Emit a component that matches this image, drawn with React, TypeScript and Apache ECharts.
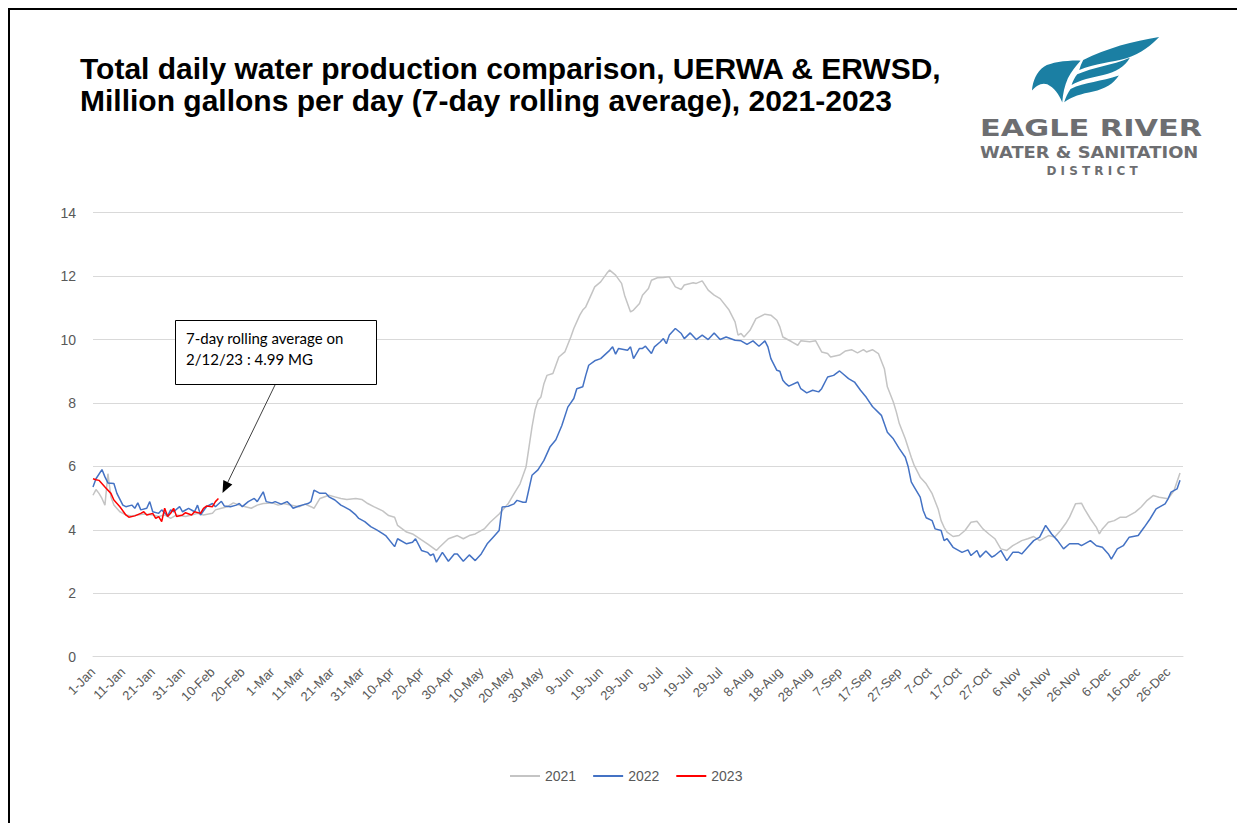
import React, { useEffect, useRef } from "react";
import * as echarts from "echarts";

// ---- Axis categories (leap-year day labels, as on the original axis) ----
const MONTHS = ["Jan", "Feb", "Mar", "Apr", "May", "Jun", "Jul", "Aug", "Sep", "Oct", "Nov", "Dec"];
const MONTH_DAYS = [31, 29, 31, 30, 31, 30, 31, 31, 30, 31, 30, 31];
const categories: string[] = [];
MONTHS.forEach((m, k) => {
  for (let d = 1; d <= MONTH_DAYS[k]; d++) categories.push(`${d}-${m}`);
});

const Y_MIN = 0;
const Y_MAX = 14;
const Y_STEP = 2;

const SERIES_NAMES = ["2021", "2022", "2023"];

// ---- Series values: [day index, million gallons per day] ----
const data2021: [number, number][] = [
  [0, 5.09], [1, 5.27], [2, 5.15], [3, 4.99], [4, 4.78], [5, 5.77], [6, 5.04], [7, 4.78], [9, 4.57], [11, 4.47],
  [13, 4.44], [15, 4.47], [17, 4.5], [20, 4.47], [22, 4.42], [24, 4.47], [26, 4.36], [28, 4.47], [31, 4.42], [33, 4.47],
  [35, 4.52], [37, 4.47], [40, 4.52], [41, 4.63], [43, 4.68], [45, 4.73], [47, 4.85], [49, 4.78], [51, 4.73], [53, 4.68],
  [55, 4.78], [57, 4.83], [60, 4.85], [62, 4.78], [64, 4.83], [66, 4.78], [69, 4.73], [71, 4.81], [73, 4.73], [74, 4.68],
  [76, 4.99], [79, 5.09], [81, 5.04], [83, 4.99], [85, 4.96], [88, 4.99], [90, 4.96], [92, 4.83], [94, 4.73], [97, 4.6],
  [99, 4.45], [101, 4.4], [102, 4.14], [105, 3.93], [107, 3.87], [110, 3.68], [112, 3.56], [115, 3.35], [116, 3.45], [119, 3.72],
  [122, 3.82], [124, 3.72], [126, 3.82], [128, 3.87], [131, 4.03], [133, 4.24], [136, 4.5], [139, 4.82], [141, 5.14], [143, 5.45],
  [145, 5.98], [146, 6.61], [147, 7.24], [148, 7.77], [149, 8.08], [150, 8.19], [151, 8.61], [152, 8.87], [154, 8.93], [155, 9.19],
  [156, 9.45], [158, 9.61], [160, 10.08], [161, 10.35], [163, 10.77], [164, 10.93], [165, 11.03], [167, 11.45], [168, 11.66], [170, 11.82],
  [172, 12.08], [173, 12.19], [175, 12.03], [177, 11.77], [178, 11.4], [180, 10.87], [181, 10.93], [183, 11.14], [184, 11.4], [186, 11.61],
  [187, 11.87], [189, 11.95], [191, 11.96], [193, 11.98], [195, 11.66], [197, 11.58], [198, 11.72], [201, 11.79], [202, 11.77], [204, 11.85],
  [206, 11.56], [208, 11.4], [210, 11.29], [213, 10.93], [215, 10.56], [216, 10.14], [217, 10.19], [218, 10.08], [220, 10.29], [222, 10.66],
  [225, 10.8], [227, 10.77], [229, 10.61], [230, 10.4], [231, 10.08], [234, 9.93], [236, 9.82], [237, 9.96], [240, 9.93], [242, 9.96],
  [244, 9.61], [246, 9.56], [247, 9.45], [250, 9.51], [252, 9.64], [254, 9.68], [256, 9.58], [258, 9.68], [259, 9.61], [261, 9.68],
  [263, 9.56], [265, 9.08], [266, 8.51], [268, 8.03], [269, 7.72], [270, 7.35], [272, 6.87], [274, 6.29], [275, 6.03], [277, 5.66],
  [279, 5.45], [281, 5.14], [283, 4.66], [284, 4.29], [285, 4.08], [286, 3.93], [288, 3.79], [290, 3.82], [292, 3.98], [294, 4.24],
  [296, 4.27], [298, 4.03], [300, 3.87], [302, 3.72], [304, 3.4], [306, 3.35], [308, 3.5], [311, 3.66], [313, 3.72], [315, 3.79],
  [317, 3.66], [320, 3.82], [322, 3.77], [324, 3.98], [326, 4.24], [327, 4.4], [329, 4.82], [331, 4.84], [332, 4.66], [334, 4.35],
  [336, 4.08], [337, 3.87], [338, 4.03], [340, 4.24], [342, 4.29], [344, 4.4], [346, 4.4], [349, 4.56], [351, 4.72], [353, 4.93],
  [355, 5.08], [357, 5.03], [360, 4.98], [362, 5.24], [364, 5.79],
];

const data2022: [number, number][] = [
  [0, 5.35], [1, 5.61], [3, 5.9], [4, 5.67], [5, 5.48], [7, 5.46], [8, 5.15], [10, 4.78], [11, 4.73], [13, 4.78],
  [14, 4.68], [15, 4.85], [16, 4.63], [18, 4.68], [19, 4.89], [20, 4.57], [22, 4.52], [23, 4.63], [25, 4.44], [26, 4.63],
  [27, 4.57], [29, 4.73], [30, 4.57], [32, 4.68], [34, 4.57], [35, 4.78], [36, 4.47], [38, 4.73], [40, 4.83], [41, 4.73],
  [43, 4.9], [44, 4.75], [46, 4.73], [48, 4.78], [49, 4.83], [50, 4.73], [52, 4.89], [54, 4.99], [55, 4.89], [57, 5.2],
  [58, 4.89], [60, 4.85], [61, 4.89], [63, 4.81], [65, 4.89], [66, 4.8], [67, 4.68], [69, 4.75], [70, 4.78], [72, 4.83],
  [73, 4.89], [74, 5.25], [76, 5.15], [78, 5.15], [79, 5.04], [81, 4.94], [83, 4.78], [84, 4.73], [86, 4.63], [88, 4.47],
  [89, 4.36], [91, 4.26], [93, 4.1], [95, 4.0], [97, 3.88], [98, 3.82], [101, 3.47], [102, 3.72], [105, 3.56], [107, 3.61],
  [108, 3.72], [110, 3.35], [112, 3.29], [113, 3.19], [114, 3.24], [115, 2.98], [117, 3.29], [119, 3.01], [121, 3.24], [122, 3.24],
  [124, 3.01], [126, 3.21], [128, 3.03], [130, 3.24], [132, 3.56], [134, 3.77], [136, 3.98], [137, 4.72], [139, 4.74], [141, 4.82],
  [142, 4.93], [144, 4.87], [145, 4.87], [147, 5.72], [149, 5.89], [151, 6.19], [153, 6.61], [155, 6.84], [157, 7.29], [159, 7.87],
  [161, 8.14], [162, 8.45], [164, 8.51], [165, 8.87], [166, 9.19], [168, 9.33], [170, 9.4], [173, 9.66], [174, 9.77], [175, 9.54],
  [176, 9.72], [179, 9.66], [180, 9.77], [181, 9.4], [183, 9.72], [184, 9.72], [185, 9.79], [187, 9.56], [188, 9.77], [190, 9.93],
  [191, 10.03], [192, 9.87], [193, 10.14], [195, 10.35], [197, 10.19], [198, 10.03], [200, 10.21], [202, 10.0], [204, 10.14], [206, 10.0],
  [208, 10.21], [210, 10.0], [212, 10.08], [215, 9.98], [217, 9.96], [219, 9.85], [221, 9.96], [223, 9.79], [225, 9.96], [226, 9.77],
  [227, 9.4], [229, 9.03], [230, 9.0], [231, 8.72], [232, 8.61], [233, 8.53], [236, 8.66], [237, 8.45], [239, 8.32], [241, 8.4],
  [243, 8.35], [244, 8.45], [246, 8.82], [248, 8.87], [250, 9.01], [251, 8.93], [253, 8.77], [255, 8.66], [257, 8.4], [259, 8.17],
  [261, 7.89], [264, 7.61], [266, 7.08], [268, 6.87], [270, 6.56], [272, 6.29], [273, 5.98], [274, 5.51], [275, 5.35], [277, 5.03],
  [278, 4.61], [279, 4.38], [281, 4.29], [282, 4.03], [284, 3.98], [285, 3.66], [286, 3.72], [288, 3.45], [291, 3.29], [293, 3.37],
  [294, 3.19], [296, 3.35], [297, 3.14], [299, 3.33], [301, 3.14], [302, 3.19], [304, 3.35], [306, 3.03], [308, 3.29], [310, 3.29],
  [311, 3.24], [313, 3.45], [315, 3.66], [317, 3.77], [319, 4.14], [321, 3.87], [323, 3.66], [325, 3.4], [327, 3.56], [330, 3.56],
  [331, 3.5], [334, 3.66], [336, 3.5], [338, 3.45], [340, 3.24], [341, 3.08], [343, 3.4], [345, 3.5], [347, 3.77], [350, 3.82],
  [352, 4.08], [354, 4.35], [356, 4.66], [359, 4.82], [360, 4.98], [361, 5.19], [363, 5.29], [364, 5.56],
];

const data2023: [number, number][] = [
  [0, 5.61], [1, 5.58], [2, 5.56], [4, 5.35], [6, 5.15], [7, 4.94], [9, 4.73], [11, 4.47], [12, 4.4], [14, 4.44],
  [16, 4.52], [17, 4.57], [18, 4.47], [20, 4.52], [21, 4.36], [22, 4.42], [23, 4.26], [24, 4.68], [25, 4.42], [26, 4.52],
  [27, 4.68], [28, 4.42], [30, 4.47], [31, 4.54], [33, 4.47], [34, 4.57], [36, 4.52], [37, 4.68], [38, 4.75], [40, 4.73],
  [41, 4.89], [42, 4.99],
];

const TITLE_LINES = [
  "Total daily water production comparison, UERWA & ERWSD,",
  "Million gallons per day (7-day rolling average), 2021-2023",
];
const NOTE_LINES = ["7-day rolling average on", "2/12/23 : 4.99 MG"];

// ---- Logo artwork (eagle wing), in a 3x local coordinate space ----
const EAGLE_D =
  "M186 197 C188 168 200 140 222 125 C245 112 290 106 332 107 C318 122 304 140 294 160 C284 182 279 206 277 233 C268 208 252 188 232 178 C215 172 198 182 186 197 Z " +
  "M340 105 C410 70 490 48 568 36 C545 60 515 85 470 100 C425 113 375 115 328 135 C331 124 335 114 340 105 Z " +
  "M322 148 C370 126 425 122 480 98 C465 125 440 140 400 150 C365 158 330 165 305 180 C309 168 315 157 322 148 Z " +
  "M302 192 C345 172 395 170 447 152 C430 178 405 192 370 200 C335 207 305 215 283 232 C287 217 294 203 302 192 Z";

let eagleRegistered = false;
function registerEagle() {
  if (eagleRegistered) return;
  echarts.graphic.registerShape("eagle", echarts.graphic.extendPath(EAGLE_D, {}) as any);
  eagleRegistered = true;
}

export default function App() {
  const ref = useRef<HTMLDivElement>(null);

  useEffect(() => {
    document.body.style.margin = "0";
    registerEagle();
    const chart = echarts.init(ref.current!, undefined, { renderer: "svg" });

    const axisFont = "'Liberation Sans', Arial, sans-serif";
    const axisColor = "#595959";

    const option: any = {
      animation: false,
      backgroundColor: "#ffffff",
      grid: {
        left: 93,
        right: 54,
        top: 212.7,
        bottom: 166.3,
        containLabel: false,
        outerBoundsMode: "none",
      },
      legend: {
        data: SERIES_NAMES,
        left: 505,
        top: 764,
        icon: "rect",
        itemWidth: 30,
        itemHeight: 2,
        itemGap: 17,
        textStyle: { fontFamily: axisFont, fontSize: 14, color: axisColor },
      },
      xAxis: {
        type: "category",
        data: categories,
        boundaryGap: false,
        axisLine: { show: true, lineStyle: { color: "#d9d9d9", width: 1 } },
        axisTick: { show: false },
        axisLabel: {
          interval: 9,
          rotate: 45,
          margin: 13,
          fontFamily: axisFont,
          fontSize: 13,
          color: axisColor,
        },
        splitLine: { show: false },
      },
      yAxis: {
        type: "value",
        min: Y_MIN,
        max: Y_MAX,
        interval: Y_STEP,
        axisLine: { show: false },
        axisTick: { show: false },
        axisLabel: { margin: 17, fontFamily: axisFont, fontSize: 14, color: axisColor },
        splitLine: { lineStyle: { color: "#d9d9d9", width: 1 } },
      },
      series: [
        {
          name: SERIES_NAMES[0],
          type: "line",
          data: data2021,
          symbol: "none",
          showSymbol: false,
          lineStyle: { color: "#c4c4c4", width: 1.5 },
          itemStyle: { color: "#c4c4c4" },
          z: 2,
        },
        {
          name: SERIES_NAMES[1],
          type: "line",
          data: data2022,
          symbol: "none",
          showSymbol: false,
          lineStyle: { color: "#4472c4", width: 1.5 },
          itemStyle: { color: "#4472c4" },
          z: 3,
        },
        {
          name: SERIES_NAMES[2],
          type: "line",
          data: data2023,
          symbol: "none",
          showSymbol: false,
          lineStyle: { color: "#ff0000", width: 1.5 },
          itemStyle: { color: "#ff0000" },
          z: 4,
        },
      ],
      graphic: [
        // frame
        { type: "line", shape: { x1: 9, y1: 8, x2: 9, y2: 823 }, style: { stroke: "#000", lineWidth: 2 } },
        { type: "line", shape: { x1: 8, y1: 9, x2: 1237, y2: 9 }, style: { stroke: "#000", lineWidth: 2 } },
        // title
        {
          type: "text",
          x: 80,
          y: 68,
          style: {
            text: TITLE_LINES[0],
            fontFamily: "'Liberation Sans', Arial, sans-serif",
            fontWeight: "bold",
            fontSize: 30,
            fill: "#000",
            verticalAlign: "middle",
          },
        },
        {
          type: "text",
          x: 80,
          y: 100,
          style: {
            text: TITLE_LINES[1],
            fontFamily: "'Liberation Sans', Arial, sans-serif",
            fontWeight: "bold",
            fontSize: 30,
            fill: "#000",
            verticalAlign: "middle",
          },
        },
        // logo
        {
          type: "eagle",
          x: 970,
          y: 25,
          scaleX: 1 / 3,
          scaleY: 1 / 3,
          style: { fill: "#1b7fa3" },
        },
        {
          type: "text",
          x: 980,
          y: 128,
          scaleX: 1.32,
          style: {
            text: "EAGLE RIVER",
            fontFamily: "'DejaVu Sans', sans-serif",
            fontWeight: "bold",
            fontSize: 23,
            fill: "#6d6e71",
            verticalAlign: "middle",
          },
        },
        {
          type: "text",
          x: 980,
          y: 152,
          scaleX: 1.085,
          style: {
            text: "WATER & SANITATION",
            fontFamily: "'DejaVu Sans', sans-serif",
            fontWeight: "bold",
            fontSize: 16.5,
            fill: "#6d6e71",
            verticalAlign: "middle",
          },
        },
        {
          type: "text",
          x: 1092,
          y: 171,
          style: {
            text: "D I S T R I C T",
            fontFamily: "'DejaVu Sans', sans-serif",
            fontWeight: "bold",
            fontSize: 12,
            fill: "#6d6e71",
            align: "center",
            verticalAlign: "middle",
          },
        },
        // annotation box
        {
          type: "rect",
          shape: { x: 175.5, y: 320.5, width: 201, height: 64 },
          style: { fill: "#ffffff", stroke: "#000", lineWidth: 1 },
          z: 100,
        },
        {
          type: "text",
          x: 186,
          y: 338,
          z: 101,
          style: {
            text: NOTE_LINES[0],
            fontFamily: "Lato, 'Open Sans', sans-serif",
            fontSize: 15,
            fill: "#000",
            verticalAlign: "middle",
          },
        },
        {
          type: "text",
          x: 186,
          y: 359,
          z: 101,
          style: {
            text: NOTE_LINES[1],
            fontFamily: "Lato, 'Open Sans', sans-serif",
            fontSize: 15,
            fill: "#000",
            verticalAlign: "middle",
          },
        },
        // arrow
        {
          type: "line",
          shape: { x1: 275, y1: 385, x2: 227.8, y2: 482.2 },
          style: { stroke: "#404040", lineWidth: 1 },
          z: 100,
        },
        {
          type: "polygon",
          shape: { points: [[222.5, 493], [232.3, 484.4], [223.3, 480]] },
          style: { fill: "#000" },
          z: 100,
        },
      ],
    };

    chart.setOption(option);
    return () => chart.dispose();
  }, []);

  return <div ref={ref} style={{ width: 1237, height: 823 }} />;
}
